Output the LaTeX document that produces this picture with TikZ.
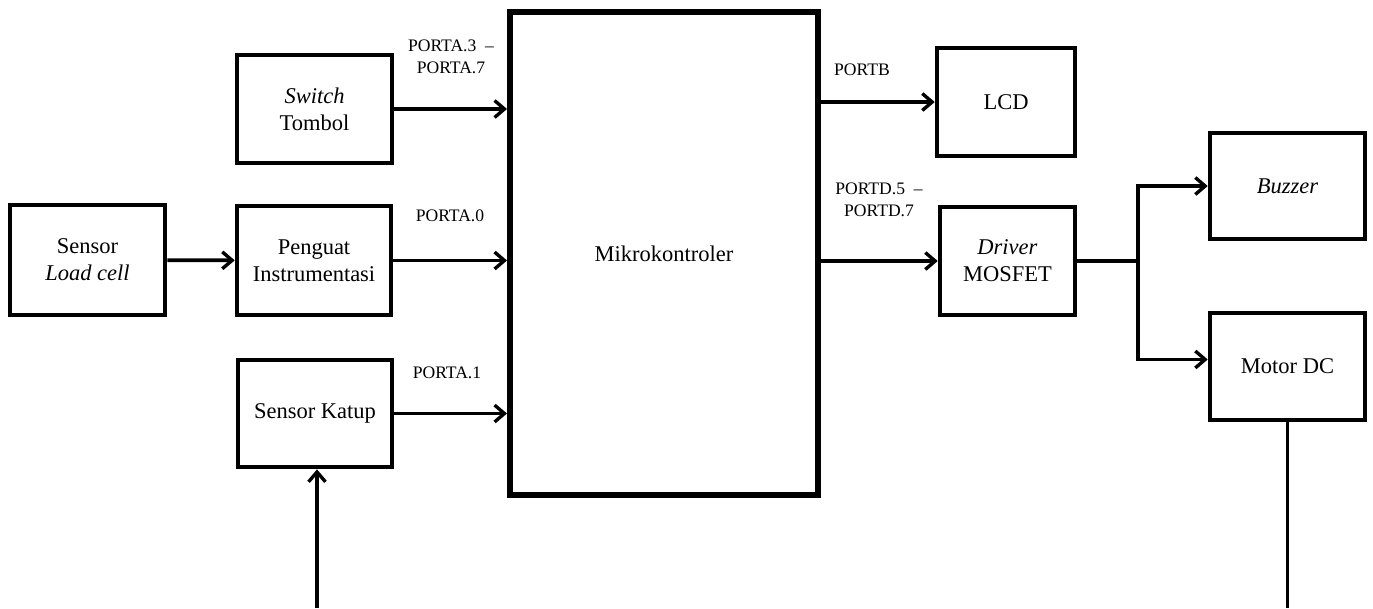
\documentclass[tikz,border=0pt]{standalone}
\usepackage{fontspec}
\setmainfont{Liberation Serif}
\usetikzlibrary{arrows.meta, positioning, calc}
\tikzstyle{block}  = [rectangle, draw=black, line width=3.2pt, align=center,
                      font=\fontsize{16}{19}\selectfont]
\tikzstyle{port}   = [align=center, font=\fontsize{12.5}{15.5}\selectfont]
\tikzstyle{arrow}  = [-{Straight Barb[length=7pt, width=12pt, line width=2.4pt]},
                      line width=2.6pt]
\tikzstyle{wire}   = [line width=2.6pt]

\begin{document}
\begin{tikzpicture}[x=0.025cm, y=-0.025cm]

  \useasboundingbox (0,0) rectangle (1373,608);

  %% Input side
  \node[block, minimum width=3.875cm, minimum height=2.75cm] (cell) at (87.5,260)
        {Sensor\\\textit{Load cell}};
  \node[block, minimum width=3.85cm, minimum height=2.72cm] (peng) at (314,260.5)
        {Penguat\\Instrumentasi};
  \node[block, minimum width=3.875cm, minimum height=2.7cm] (sw) at (314.5,109)
        {\textit{Switch}\\Tombol};
  \node[block, minimum width=3.85cm, minimum height=2.68cm] (katup) at (315,413.5)
        {Sensor Katup};

  %% Controller
  \node[block, line width=4.2pt, minimum width=7.7cm, minimum height=12.08cm]
        (mikro) at (664,253.5) {Mikrokontroler};

  %% Output side
  \node[block, minimum width=3.45cm, minimum height=2.7cm] (lcd) at (1006,102)
        {LCD};
  \node[block, minimum width=3.375cm, minimum height=2.7cm] (drv) at (1007.5,261)
        {\textit{Driver}\\MOSFET};
  \node[block, minimum width=3.875cm, minimum height=2.65cm] (buz) at (1287.5,186)
        {\textit{Buzzer}};
  \node[block, minimum width=3.875cm, minimum height=2.68cm] (motor) at (1287.5,366.5)
        {Motor DC};

  %% Port labels
  \node[port] (pa3) at (451,57) {PORTA.3 \ \textendash\\PORTA.7};
  \node[port] (pa0) at (450,216) {PORTA.0};
  \node[port] (pa1) at (447,373) {PORTA.1};
  \node[port] (pb)  at (862,70)  {PORTB};
  \node[port] (pd5) at (879,200) {PORTD.5 \ \textendash\\PORTD.7};

  \coordinate (jn)   at (1138,261);
  \coordinate (kin)  at (317,608);
  \coordinate (mout) at (1290,608);

  %% Arrows
  \draw[arrow] (cell) -- (peng);
  \draw[arrow] (peng.east) -- (peng.east -| mikro.west);
  \draw[arrow] (sw.east) -- (sw.east -| mikro.west);
  \draw[arrow] (katup.east) -- (katup.east -| mikro.west);
  \draw[arrow] (mikro.east |- lcd.west) -- (lcd.west);
  \draw[arrow] (mikro.east |- drv.west) -- (drv.west);
  \draw[wire] (drv.east) -- (jn);
  \draw[arrow] (jn) |- (buz.west);
  \draw[arrow] (jn) |- ([yshift=5pt]motor.west);
  \draw[arrow] (kin) -- (kin |- katup.south);
  \draw[wire] (motor.south) -- (motor.south |- mout);

\end{tikzpicture}
\end{document}
